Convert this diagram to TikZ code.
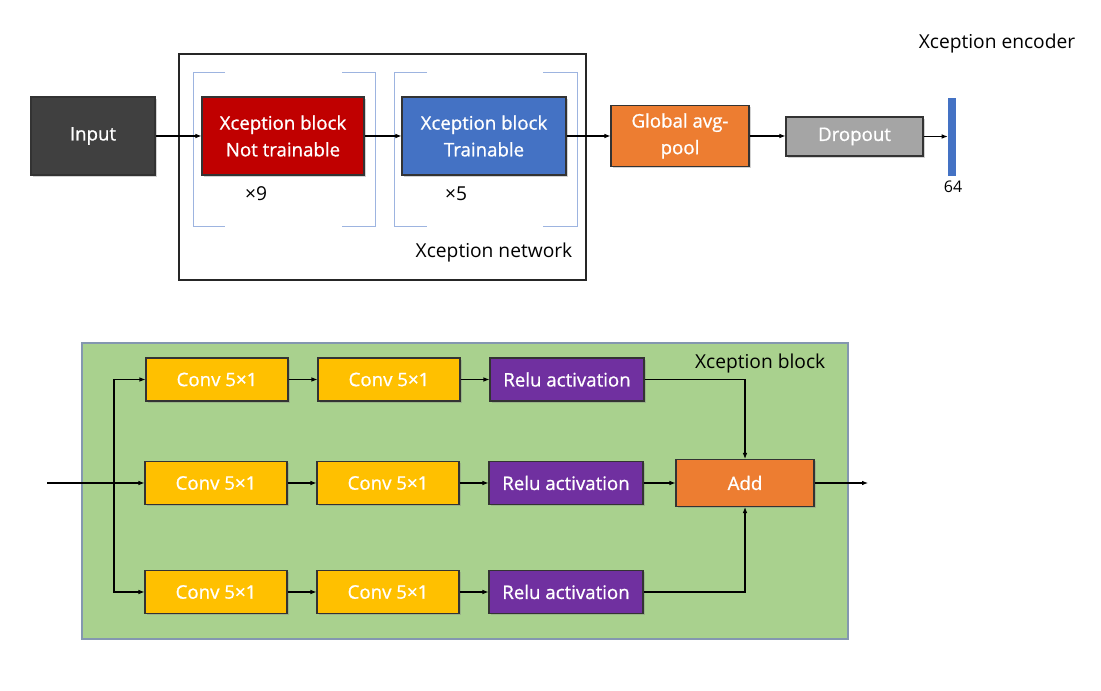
\documentclass[tikz,border=0pt]{standalone}
\usepackage{fontspec}
\setmainfont{Open Sans}
\newfontfamily\semibfont[FakeBold=0.9]{Open Sans}
\usetikzlibrary{arrows.meta,shadows}
\definecolor{cinput}{HTML}{404040}
\definecolor{cred}{HTML}{C00000}
\definecolor{cblue}{HTML}{4472C4}
\definecolor{corange}{HTML}{ED7D31}
\definecolor{cgray}{HTML}{A5A5A5}
\definecolor{cyellow}{HTML}{FFC000}
\definecolor{cpurple}{HTML}{7030A0}
\definecolor{cgreen}{HTML}{A9D18E}
\definecolor{cgreenb}{HTML}{8497B0}
\definecolor{cbrack}{HTML}{9DB4E0}
\tikzset{
  box/.style={draw=black!80, line width=0.8pt, text=white, align=center, inner sep=1pt,
    font=\semibfont\fontsize{14}{20}\selectfont,
    drop shadow={opacity=0.35, shadow xshift=1.2pt, shadow yshift=-1.2pt}},
  conv/.style={box, fill=cyellow, minimum width=106.5pt, minimum height=32.25pt},
  relu/.style={box, fill=cpurple, minimum width=115.5pt, minimum height=32.25pt},
  arr/.style={-{Latex[length=4.5pt,width=3.5pt]}, line width=0.8pt, black},
  ln/.style={line width=0.8pt, black},
  brack/.style={cbrack, line width=0.6pt},
  lbl/.style={font=\fontsize{14.4}{17}\selectfont, text=black},
}
\begin{document}
\begin{tikzpicture}[x=0.75pt,y=-0.75pt]
\useasboundingbox (0,0) rectangle (1101,691);
% ---------- top ----------
\node[draw=black!85, line width=0.8pt, minimum width=305.25pt, minimum height=169.5pt, inner sep=0pt] (net) at (382.5,167) {};
\node[lbl, anchor=east] (netlbl) at (577,253) {Xception network};
% brackets
\draw[brack] (225,72) -- (193,72) -- (193,226) -- (225,226);
\draw[brack] (342,72) -- (375,72) -- (375,226) -- (342,226);
\draw[brack] (427,72) -- (394,72) -- (394,226) -- (427,226);
\draw[brack] (543,72) -- (577,72) -- (577,226) -- (543,226);
\node[box, fill=cinput, minimum width=93pt, minimum height=58.5pt] (input) at (93,136) {Input};
\node[box, fill=cred, minimum width=121.5pt, minimum height=58.5pt] (xnt) at (283,136) {Xception block\\Not trainable};
\node[box, fill=cblue, minimum width=123pt, minimum height=58.5pt] (xt) at (484,136) {Xception block\\Trainable};
\node[box, fill=corange, minimum width=103.5pt, minimum height=45.75pt] (gap) at (680,136) {Global avg-\\pool};
\node[box, fill=cgray, minimum width=102.75pt, minimum height=29.25pt] (drop) at (854.5,136.5) {Dropout};
\node[fill=cblue, minimum width=6pt, minimum height=58.5pt, inner sep=0pt] (bar) at (952,137) {};
\node[lbl, font=\fontsize{12}{14}\selectfont] (n64) at (953,187) {64};
\node[lbl] (enc) at (997,44) {Xception encoder};
\node[lbl] (x9) at (256,194) {×9};
\node[lbl] (x5) at (456,194) {×5};
\draw[arr] (input.east) -- (xnt.west);
\draw[arr] (xnt.east) -- (xt.west);
\draw[arr] (xt.east) -- (gap.west);
\draw[arr] (gap.east) -- (drop.west |- gap.east);
\draw[arr] (drop.east) -- (bar.west |- drop.east);
% ---------- bottom ----------
\node[draw=cgreenb, fill=cgreen, line width=1pt, minimum width=574.5pt, minimum height=222pt, inner sep=0pt] (blk) at (465,491) {};
\node[lbl, anchor=east] (blklbl) at (830,364) {Xception block};
\node[conv] (c11) at (217,379.5) {Conv 5×1};
\node[conv] (c12) at (389,379.5) {Conv 5×1};
\node[relu] (r1) at (567,379.5) {Relu activation};
\node[conv] (c21) at (216,483) {Conv 5×1};
\node[conv] (c22) at (388,483) {Conv 5×1};
\node[relu] (r2) at (566,483) {Relu activation};
\node[conv] (c31) at (216,592) {Conv 5×1};
\node[conv] (c32) at (388,592) {Conv 5×1};
\node[relu] (r3) at (566,592) {Relu activation};
\node[box, fill=corange, minimum width=103.5pt, minimum height=35.25pt] (add) at (745,483) {Add};
\coordinate (in) at (47,483);
\coordinate (split) at (114,483);
\coordinate (out) at (868,483);
\draw[ln] (in) -- (split);
\draw[arr] (split) |- (c11.west);
\draw[arr] (split) -- (c21.west);
\draw[arr] (split) |- (c31.west);
\draw[arr] (c11) -- (c12);
\draw[arr] (c12) -- (r1);
\draw[arr] (c21) -- (c22);
\draw[arr] (c22) -- (r2);
\draw[arr] (c31) -- (c32);
\draw[arr] (c32) -- (r3);
\draw[arr] (r1.east) -| (add.north);
\draw[arr] (r2.east) -- (add.west);
\draw[arr] (r3.east) -| (add.south);
\draw[arr] (add.east) -- (out);
\end{tikzpicture}
\end{document}
